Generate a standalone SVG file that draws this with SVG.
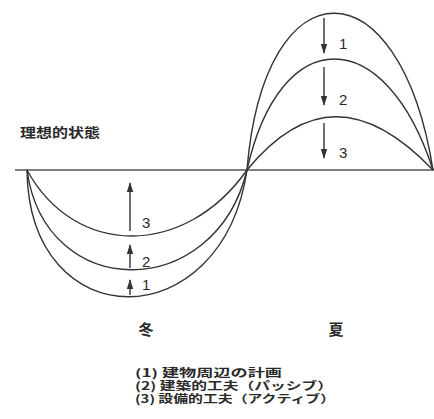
<svg xmlns="http://www.w3.org/2000/svg" width="434" height="419" viewBox="0 0 434 419">
<defs>
<style>
.axis{stroke:#555;stroke-width:1.6;fill:none}
.curve{stroke:#333;stroke-width:1.4;fill:none}
.arr{stroke:#333;stroke-width:1.4;fill:none;marker-end:url(#ah)}
.jp{font-family:"Noto Sans CJK JP","Noto Sans CJK SC",sans-serif;font-weight:700;fill:#2a2a2a}
.num{font-family:"Liberation Sans","DejaVu Sans",sans-serif;font-size:15px;fill:#2a2a2a}
</style>
<marker id="ah" markerWidth="10" markerHeight="8" viewBox="0 0 10 8" refX="9" refY="4" orient="auto" markerUnits="userSpaceOnUse">
<path d="M0,0.8 L10,4 L0,7.2 Z" fill="#333"/>
</marker>
</defs>
<rect width="434" height="419" fill="#fff"/>
<g id="axis">
<line class="axis" x1="15" y1="170" x2="434" y2="170"/>
</g>
<g id="winter-curves">
<path id="w1" class="curve" d="M27,170 C29,339 222,339 247,170"/>
<path id="w2" class="curve" d="M27,170 C45,303 215,303 247,170"/>
<path id="w3" class="curve" d="M27,170 C75,258 185,258 247,170"/>
</g>
<g id="summer-curves">
<path id="s1" class="curve" d="M247,170 C264,-39 400,-39 433,170"/>
<path id="s2" class="curve" d="M247,170 C280,22 385,22 433,170"/>
<path id="s3" class="curve" d="M247,170 C305,99 365,99 433,170"/>
</g>
<g id="connectors">
<line class="arr" x1="130" y1="231" x2="130" y2="183"/>
<line class="arr" x1="130" y1="268" x2="130" y2="245"/>
<line class="arr" x1="130" y1="295" x2="130" y2="280"/>
<line class="arr" x1="324" y1="18" x2="324" y2="53"/>
<line class="arr" x1="324" y1="67" x2="324" y2="105"/>
<line class="arr" x1="324" y1="123" x2="324" y2="158"/>
</g>
<g id="step-labels">
<text class="num" x="142" y="228">3</text>
<text class="num" x="142" y="267">2</text>
<text class="num" x="142" y="290">1</text>
<text class="num" x="339" y="49">1</text>
<text class="num" x="339" y="105">2</text>
<text class="num" x="339" y="158">3</text>
</g>
<g id="title">
<text class="jp" x="20" y="137" font-size="13" textLength="80" lengthAdjust="spacingAndGlyphs">理想的状態</text>
</g>
<g id="season-labels">
<text class="jp" x="146" y="335" font-size="15" text-anchor="middle">冬</text>
<text class="jp" x="336" y="335" font-size="15" text-anchor="middle">夏</text>
</g>
<g id="legend">
<text class="jp" x="135" y="377" font-size="11" textLength="147" lengthAdjust="spacingAndGlyphs">(1) 建物周辺の計画</text>
<text class="jp" x="135" y="390" font-size="11" textLength="198" lengthAdjust="spacingAndGlyphs">(2) 建築的工夫（パッシブ）</text>
<text class="jp" x="135" y="403" font-size="11" textLength="200" lengthAdjust="spacingAndGlyphs">(3) 設備的工夫（アクティブ）</text>
</g>
</svg>
